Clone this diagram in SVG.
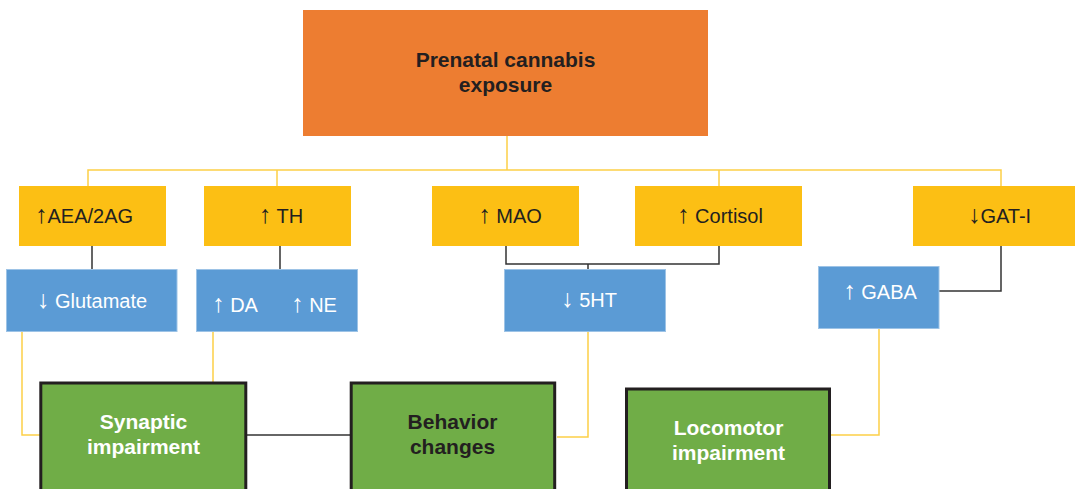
<svg xmlns="http://www.w3.org/2000/svg" width="1077" height="489" viewBox="0 0 1077 489">
  <style>
    .lbl { font-family: "Liberation Sans", "DejaVu Sans", Arial, sans-serif; }
    .arw { font-size: 25px; }
    .top { fill: #ED7D31; }
    .yel { fill: #FCBF14; }
    .blu { fill: #5B9BD5; stroke: #9DC3E6; stroke-width: 1; }
    .grn { fill: #70AD47; stroke: #231F20; stroke-width: 3; }
    .dark { fill: #231F20; }
    .light { fill: #FFFFFF; }
    .bold { font-weight: bold; font-size: 21px; }
    .reg { font-size: 20px; }
    .ylink { fill: none; stroke: #FDD047; stroke-width: 1.5; }
    .klink { fill: none; stroke: #333333; stroke-width: 1.5; }
  </style>

  <!-- connectors -->
  <g id="connectors">
    <!-- exposure trunk and branches -->
    <path class="ylink" d="M507 136 V170 M88 186 V170 H1001 V186 M277 170 V186 M719 170 V186"/>
    <!-- level 1 to level 2 -->
    <path class="klink" d="M92 246 V269 M280 246 V269"/>
    <path class="klink" d="M506 246 V264 H719 V246 M588 264 V269"/>
    <path class="klink" d="M1001 246 V291 H939"/>
    <!-- level 2 to outcomes -->
    <path class="ylink" d="M22 332 V435 H40 M213 332 V382"/>
    <path class="ylink" d="M588 332 V437 H557"/>
    <path class="ylink" d="M879 328 V435 H831"/>
    <path class="klink" d="M247 435 H350"/>
  </g>

  <g id="node-exposure">
    <rect class="top" x="303" y="10" width="405" height="126"/>
    <text class="lbl bold dark" x="505.5" y="67" text-anchor="middle">Prenatal cannabis</text>
    <text class="lbl bold dark" x="505.5" y="92" text-anchor="middle">exposure</text>
  </g>

  <g id="node-aea">
    <rect class="yel" x="19" y="186" width="147" height="60"/>
    <text class="lbl reg dark" x="35" y="223"><tspan class="arw">↑</tspan>AEA/2AG</text>
  </g>
  <g id="node-th">
    <rect class="yel" x="204" y="186" width="147" height="60"/>
    <text class="lbl reg dark" x="281" y="223" text-anchor="middle"><tspan class="arw">↑</tspan> TH</text>
  </g>
  <g id="node-mao">
    <rect class="yel" x="432" y="186" width="147" height="60"/>
    <text class="lbl reg dark" x="510" y="223" text-anchor="middle"><tspan class="arw">↑</tspan> MAO</text>
  </g>
  <g id="node-cortisol">
    <rect class="yel" x="635" y="186" width="167" height="60"/>
    <text class="lbl reg dark" x="720" y="223" text-anchor="middle"><tspan class="arw">↑</tspan> Cortisol</text>
  </g>
  <g id="node-gat">
    <rect class="yel" x="913" y="186" width="162" height="60"/>
    <text class="lbl reg dark" x="999.5" y="223" text-anchor="middle"><tspan class="arw">↓</tspan>GAT-I</text>
  </g>

  <g id="node-glutamate">
    <rect class="blu" x="6.5" y="269.5" width="170.5" height="62"/>
    <text class="lbl reg light" x="92" y="308" text-anchor="middle"><tspan class="arw">↓</tspan> Glutamate</text>
  </g>
  <g id="node-da-ne">
    <rect class="blu" x="196.5" y="269.5" width="161" height="62"/>
    <text class="lbl reg light" x="235" y="312" text-anchor="middle"><tspan class="arw">↑</tspan> DA</text>
    <text class="lbl reg light" x="314" y="312" text-anchor="middle"><tspan class="arw">↑</tspan> NE</text>
  </g>
  <g id="node-5ht">
    <rect class="blu" x="504.5" y="269.5" width="161" height="62"/>
    <text class="lbl reg light" x="589" y="307" text-anchor="middle"><tspan class="arw">↓</tspan> 5HT</text>
  </g>
  <g id="node-gaba">
    <rect class="blu" x="818.5" y="266.5" width="120.5" height="62"/>
    <text class="lbl reg light" x="880" y="299" text-anchor="middle"><tspan class="arw">↑</tspan> GABA</text>
  </g>

  <g id="node-synaptic">
    <rect class="grn" x="40.8" y="383" width="205" height="120"/>
    <text class="lbl bold light" x="143.5" y="429" text-anchor="middle">Synaptic</text>
    <text class="lbl bold light" x="143.5" y="454" text-anchor="middle">impairment</text>
  </g>
  <g id="node-behavior">
    <rect class="grn" x="351.2" y="383" width="203.5" height="120"/>
    <text class="lbl bold dark" x="452.5" y="429" text-anchor="middle">Behavior</text>
    <text class="lbl bold dark" x="452.5" y="454" text-anchor="middle">changes</text>
  </g>
  <g id="node-locomotor">
    <rect class="grn" x="626.5" y="389" width="203" height="120"/>
    <text class="lbl bold light" x="728.5" y="435" text-anchor="middle">Locomotor</text>
    <text class="lbl bold light" x="728.5" y="460" text-anchor="middle">impairment</text>
  </g>
</svg>
